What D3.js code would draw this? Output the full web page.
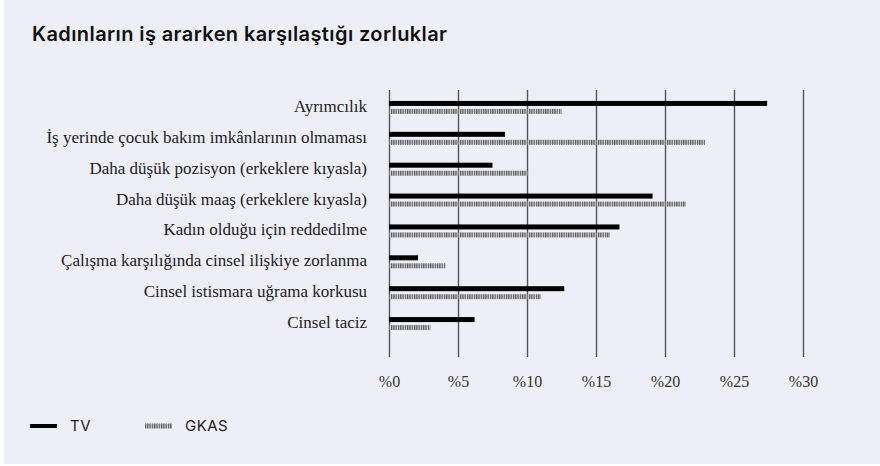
<!DOCTYPE html>
<html lang="tr">
  <head>
    <meta charset="UTF-8" />
    <title>Kadınların iş ararken karşılaştığı zorluklar</title>
    <style>
      body {
        margin: 0;
        background: #fff;
      }
      .title {
        font-family: Inter, "Open Sans", sans-serif;
        font-weight: 600;
        font-size: 20px;
        letter-spacing: 0.4px;
        fill: #111;
      }
      .cat {
        font-family: "Liberation Serif", serif;
        font-size: 17px;
        fill: #222;
      }
      .tick text {
        font-family: "Liberation Serif", serif;
        font-size: 16px;
        fill: #333;
      }
      .legend text {
        font-family: Inter, "Open Sans", sans-serif;
        font-size: 15px;
        letter-spacing: 0.5px;
        fill: #222;
      }
    </style>
  </head>
  <body>
    <svg width="880" height="466"></svg>
    <script src="https://d3js.org/d3.v7.min.js"></script>
    <script>
      // kategoriler ve seriler
      const categories = [
        "Ayrımcılık",
        "İş yerinde çocuk bakım imkânlarının olmaması",
        "Daha düşük pozisyon (erkeklere kıyasla)",
        "Daha düşük maaş (erkeklere kıyasla)",
        "Kadın olduğu için reddedilme",
        "Çalışma karşılığında cinsel ilişkiye zorlanma",
        "Cinsel istismara uğrama korkusu",
        "Cinsel taciz"
      ];
      const tvValues = [27.4, 8.4, 7.5, 19.1, 16.7, 2.1, 12.7, 6.2];
      const gkasValues = [12.5, 22.9, 10.1, 21.5, 16.0, 4.1, 11.0, 3.0];
      const tickValues = [0, 5, 10, 15, 20, 25, 30];
      const seriesNames = ["TV", "GKAS"];

      const svg = d3.select("svg");

      // arka plan
      svg.append("rect")
        .attr("x", 4).attr("y", 0)
        .attr("width", 876).attr("height", 464)
        .attr("fill", "#eeeef6");

      // çizgili desen (GKAS)
      const pat = svg.append("defs").append("pattern")
        .attr("id", "stripe")
        .attr("patternUnits", "userSpaceOnUse")
        .attr("width", 2.3).attr("height", 6);
      pat.append("rect").attr("width", 2.3).attr("height", 6).attr("fill", "#cfcfd6");
      pat.append("rect").attr("width", 1.2).attr("height", 6).attr("fill", "#5e5e5e");

      svg.append("text")
        .attr("class", "title")
        .attr("x", 32).attr("y", 41)
        .text("Kadınların iş ararken karşılaştığı zorluklar");

      const x = d3.scaleLinear().domain([0, 30]).range([389, 803]);
      const y = d3.scaleBand().domain(categories).range([91.5, 338.5]);

      // dikey ızgara çizgileri
      const axis = svg.append("g")
        .attr("transform", "translate(0,357)")
        .call(d3.axisBottom(x).tickValues(tickValues)
          .tickFormat(d => "%" + d)
          .tickSizeInner(-(357 - 90)).tickSizeOuter(0).tickPadding(19));
      axis.select(".domain").remove();
      axis.selectAll(".tick line").attr("stroke", "#555").attr("stroke-width", 1.4);

      const rows = svg.append("g").selectAll("g")
        .data(categories)
        .join("g")
        .attr("transform", d => "translate(0," + y(d) + ")");

      const bw = y.bandwidth();

      rows.append("text")
        .attr("class", "cat")
        .attr("x", 367)
        .attr("y", bw / 2 - 1)
        .attr("dy", "0.35em")
        .attr("text-anchor", "end")
        .text(d => d);

      rows.append("rect")
        .attr("x", x(0))
        .attr("y", bw / 2 - 6)
        .attr("height", 5)
        .attr("width", (d, i) => x(tvValues[i]) - x(0))
        .attr("fill", "#000");

      rows.append("rect")
        .attr("x", x(0))
        .attr("y", bw / 2 + 2)
        .attr("height", 5)
        .attr("width", (d, i) => x(gkasValues[i]) - x(0))
        .attr("fill", "url(#stripe)");

      // lejant
      const legend = svg.append("g").attr("class", "legend");
      const lx = [30, 145];
      legend.selectAll("rect")
        .data(seriesNames)
        .join("rect")
        .attr("x", (d, i) => lx[i])
        .attr("y", (d, i) => i === 0 ? 424 : 423.5)
        .attr("width", 27)
        .attr("height", (d, i) => i === 0 ? 4 : 5)
        .attr("fill", (d, i) => i === 0 ? "#000" : "url(#stripe)");
      legend.selectAll("text")
        .data(seriesNames)
        .join("text")
        .attr("x", (d, i) => lx[i] + 40)
        .attr("y", 426)
        .attr("dy", "0.35em")
        .text(d => d);
    </script>
  </body>
</html>
